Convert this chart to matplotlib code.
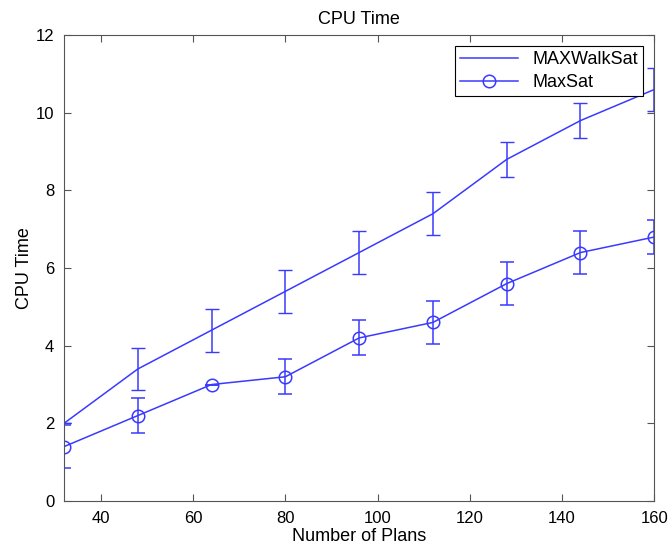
import matplotlib
matplotlib.use("Agg")
import matplotlib.pyplot as plt

plt.rcParams['font.family'] = ['Liberation Sans', 'DejaVu Sans']

plans = [32, 48, 64, 80, 96, 112, 128, 144, 160]
walksat = [2.0, 3.4, 4.4, 5.4, 6.4, 7.4, 8.8, 9.8, 10.6]
walksat_err = [0.0, 0.55, 0.55, 0.55, 0.55, 0.55, 0.45, 0.45, 0.55]
maxsat = [1.4, 2.2, 3.0, 3.2, 4.2, 4.6, 5.6, 6.4, 6.8]
maxsat_err = [0.55, 0.45, 0.0, 0.45, 0.45, 0.55, 0.55, 0.55, 0.45]

blue = '#3a3aff'

fig = plt.figure(figsize=(6.7, 5.48), dpi=100)
ax = fig.add_axes([0.0955, 0.0858, 0.881, 0.850])

ax.errorbar(plans, walksat, yerr=walksat_err, color=blue, lw=1.1,
            elinewidth=1.1, capsize=5, label='MAXWalkSat')
ax.errorbar(plans, maxsat, yerr=maxsat_err, color=blue, lw=1.1,
            elinewidth=1.1, capsize=5, marker='o', markersize=9,
            markerfacecolor='none', markeredgewidth=1.1, label='MaxSat')

ax.set_xlim(32, 160)
ax.set_ylim(0, 12)
ax.set_xticks([40, 60, 80, 100, 120, 140, 160])
ax.set_yticks([0, 2, 4, 6, 8, 10, 12])
ax.tick_params(direction='in', top=True, right=True, labelsize=12,
               length=5, color='#555555')
ax.tick_params(axis='x', pad=7)
ax.tick_params(axis='y', pad=7)
for s in ax.spines.values():
    s.set_color('#555555')

ax.set_xlabel('Number of Plans', fontsize=13, labelpad=2)
ax.set_ylabel('CPU Time', fontsize=13, labelpad=2)
ax.set_title('CPU Time', fontsize=13, pad=8)

h, l = ax.get_legend_handles_labels()
h = [x[0] for x in h]
leg = ax.legend(h, l, loc='upper right', fontsize=13, fancybox=False,
                edgecolor='black', framealpha=1, borderaxespad=0.6,
                handlelength=3.2, borderpad=0.3, labelspacing=0.3)
leg.get_frame().set_linewidth(0.8)

fig.savefig('out.png', dpi=100)
